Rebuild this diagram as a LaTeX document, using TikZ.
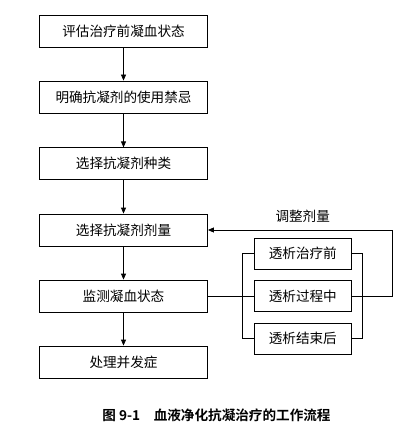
\documentclass[tikz,border=0pt]{standalone}
\usepackage{fontspec}
\setmainfont{Noto Sans CJK SC}
\newfontfamily\capfont{Noto Sans CJK SC Bold}
\usetikzlibrary{arrows.meta}
\begin{document}
\begin{tikzpicture}[x=1pt,y=-1pt,
  lbox/.style={draw,line width=0.8pt,minimum width=168pt,minimum height=32pt,inner sep=0pt,font=\fontsize{13.6}{14}\selectfont},
  rbox/.style={draw,line width=0.8pt,minimum width=97pt,minimum height=31pt,inner sep=0pt,font=\fontsize{13.6}{14}\selectfont},
  conn/.style={line width=0.8pt},
  arr/.style={conn,-{Triangle[length=6pt,width=5pt]}}]
\useasboundingbox (0,0) rectangle (412,430);
\node[lbox] (b1) at (123.5,31) {评估治疗前凝血状态};
\node[lbox] (b2) at (123.5,97) {明确抗凝剂的使用禁忌};
\node[lbox] (b3) at (123.5,163.8) {选择抗凝剂种类};
\node[lbox] (b4) at (123.5,230) {选择抗凝剂剂量};
\node[lbox] (b5) at (123.5,296) {监测凝血状态};
\node[lbox] (b6) at (123.5,362) {处理并发症};
\node[rbox] (r1) at (302.8,253.8) {透析治疗前};
\node[rbox] (r2) at (302.8,296) {透析过程中};
\node[rbox] (r3) at (302.8,338.7) {透析结束后};
\coordinate (lb) at (242.3,0);
\coordinate (rb) at (362.3,0);
\coordinate (fb) at (392.3,0);
\draw[arr] (b1) -- (b2);
\draw[arr] (b2) -- (b3);
\draw[arr] (b3) -- (b4);
\draw[arr] (b4) -- (b5);
\draw[arr] (b5) -- (b6);
\draw[conn] (b5.east) -- (r2.west);
\draw[conn] (r1.west) -- (r1.west -| lb) -- (r3.west -| lb) -- (r3.west);
\draw[conn] (r1.east) -- (r1.east -| rb) -- (r3.east -| rb) -- (r3.east);
\draw[arr] (r2.east) -- (r2.east -| fb) -- (b4.east -| fb) -- (b4.east);
\node[font=\fontsize{13.6}{14}\selectfont] (lab) at (302.7,216.7) {调整剂量};
\node[font=\capfont\fontsize{13.6}{14}\selectfont] (cap) at (216.5,415) {图 9-1\hspace{1em}血液净化抗凝治疗的工作流程};
\end{tikzpicture}
\end{document}
